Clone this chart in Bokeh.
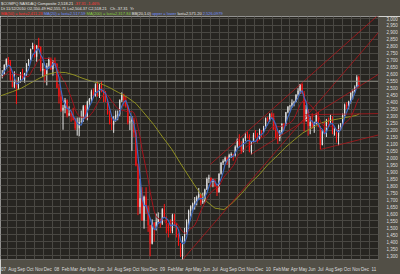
import numpy as np
import pandas as pd
from bokeh.plotting import figure
from bokeh.models import (ColumnDataSource, Div, FixedTicker, NumeralTickFormatter,
                          CustomJSTickFormatter, Span, Range1d)
from bokeh.layouts import column
from bokeh.embed import file_html
from bokeh.resources import INLINE

# ---------------- data (weekly bars, NASDAQ Composite) ----------------
first_week = "2007-06-29"
last_week = "2010-11-12"

closes = [
    # 2007
    2603, 2666, 2707, 2688, 2562, 2511, 2544, 2505, 2576, 2596, 2566, 2602, 2671, 2701,
    2780, 2805, 2725, 2804, 2795, 2627, 2637, 2596, 2661, 2709, 2635, 2691, 2674,
    # 2008
    2504, 2440, 2340, 2360, 2414, 2304, 2321, 2303, 2271, 2212, 2212, 2258, 2261,
    2370, 2290, 2402, 2422, 2476, 2445, 2528, 2444, 2523, 2475, 2454, 2406, 2316,
    2245, 2239, 2282, 2310, 2311, 2414, 2453, 2414, 2368, 2255, 2261, 2273, 2183,
    1947, 1649, 1711, 1552, 1721, 1647, 1517, 1385, 1536, 1509, 1541, 1564, 1530,
    # 2009
    1632, 1571, 1530, 1477, 1476, 1591, 1534, 1441, 1377, 1293, 1431, 1457, 1545,
    1622, 1652, 1673, 1694, 1719, 1739, 1680, 1692, 1774, 1849, 1858, 1827, 1838,
    1797, 1756, 1886, 1965, 1979, 2000, 1985, 2020, 2028, 2018, 2080, 2132, 2090,
    2048, 2139, 2156, 2154, 2045, 2112, 2167, 2146, 2138, 2194, 2190, 2212, 2285, 2269,
    # 2010
    2317, 2287, 2205, 2147, 2141, 2184, 2243, 2238, 2327, 2368, 2374, 2395,
    2402, 2454, 2481, 2530, 2461, 2265, 2347, 2229, 2257, 2219, 2243, 2309, 2223,
    2092, 2196, 2179, 2269, 2255, 2288, 2173, 2180, 2153, 2233, 2242, 2315, 2381,
    2371, 2402, 2468, 2479, 2507, 2579, 2518,
]
highs = [
    2630, 2672, 2714, 2724, 2702, 2602, 2621, 2560, 2580, 2616, 2640, 2610, 2680, 2710,
    2784, 2826, 2815, 2810, 2861, 2800, 2680, 2640, 2680, 2720, 2720, 2700, 2720,
    2680, 2530, 2480, 2380, 2430, 2420, 2370, 2340, 2360, 2290, 2290, 2290, 2340,
    2380, 2380, 2410, 2430, 2490, 2500, 2535, 2551, 2530, 2550, 2490, 2480, 2420,
    2340, 2290, 2300, 2340, 2340, 2420, 2470, 2460, 2440, 2380, 2300, 2300, 2290,
    2200, 1960, 1850, 1790, 1730, 1790, 1660, 1520, 1560, 1540, 1600, 1610, 1560,
    1640, 1670, 1580, 1530, 1560, 1600, 1600, 1530, 1460, 1390, 1440, 1500, 1560,
    1630, 1660, 1680, 1720, 1730, 1785, 1740, 1750, 1780, 1860, 1880, 1860, 1850,
    1850, 1790, 1890, 1970, 1990, 2010, 2010, 2030, 2040, 2030, 2090, 2140, 2170,
    2120, 2140, 2180, 2190, 2170, 2120, 2180, 2200, 2180, 2210, 2200, 2230, 2290, 2295,
    2320, 2326, 2320, 2240, 2190, 2200, 2250, 2250, 2330, 2370, 2380, 2420,
    2410, 2455, 2500, 2530, 2535, 2480, 2380, 2350, 2300, 2320, 2260, 2320, 2330,
    2230, 2200, 2260, 2280, 2290, 2310, 2300, 2220, 2190, 2240, 2250, 2320, 2390,
    2400, 2410, 2470, 2490, 2520, 2593, 2590,
]
lows = [
    2570, 2598, 2640, 2660, 2553, 2505, 2500, 2386, 2490, 2540, 2560, 2540, 2590, 2660,
    2700, 2780, 2720, 2690, 2780, 2620, 2580, 2540, 2520, 2640, 2630, 2590, 2660,
    2500, 2390, 2330, 2202, 2320, 2290, 2300, 2260, 2270, 2200, 2160, 2155, 2250,
    2260, 2280, 2270, 2370, 2400, 2430, 2440, 2440, 2430, 2470, 2400, 2400, 2310,
    2240, 2200, 2180, 2260, 2270, 2300, 2400, 2370, 2360, 2240, 2200, 2050, 2150,
    1940, 1590, 1600, 1550, 1493, 1600, 1470, 1295, 1380, 1400, 1480, 1530, 1500,
    1520, 1570, 1460, 1430, 1460, 1460, 1510, 1430, 1370, 1290, 1265, 1400, 1450,
    1490, 1580, 1610, 1630, 1660, 1700, 1660, 1670, 1680, 1770, 1820, 1790, 1790,
    1790, 1727, 1750, 1880, 1950, 1970, 1950, 1930, 2000, 1980, 2010, 2070, 2080,
    2030, 2040, 2120, 2140, 2040, 2025, 2110, 2140, 2110, 2130, 2150, 2180, 2210, 2260,
    2260, 2280, 2200, 2140, 2100, 2120, 2170, 2200, 2230, 2320, 2340, 2360,
    2370, 2400, 2440, 2460, 2460, 2190, 2260, 2160, 2170, 2210, 2180, 2240, 2220,
    2061, 2090, 2170, 2150, 2230, 2250, 2170, 2160, 2110, 2091, 2200, 2240, 2300,
    2350, 2350, 2390, 2420, 2470, 2500, 2504,
]
# closes of the weeks before the chart (only feed the moving averages)
warmup_closes = [2471, 2491, 2526, 2557, 2572, 2562, 2558, 2557, 2613, 2573, 2626, 2589]

ma200_dates = ["2007-06-21", "2007-08-01", "2007-09-01", "2007-10-01", "2007-11-01", "2007-12-01",
               "2008-01-01", "2008-02-01", "2008-03-01", "2008-04-01", "2008-05-01", "2008-06-01",
               "2008-07-01", "2008-08-01", "2008-09-01", "2008-10-01", "2008-11-01", "2008-12-01",
               "2009-01-01", "2009-02-01", "2009-03-01", "2009-04-01", "2009-05-01", "2009-06-01",
               "2009-07-01", "2009-08-01", "2009-09-01", "2009-10-01", "2009-11-01", "2009-12-01",
               "2010-01-01", "2010-02-01", "2010-03-01", "2010-04-01", "2010-05-01", "2010-06-01",
               "2010-07-01", "2010-08-01", "2010-09-01", "2010-10-01", "2010-11-01", "2010-11-12"]
ma200_values = [2445, 2475, 2500, 2535, 2570, 2600,
                2615, 2612, 2595, 2570, 2550, 2533,
                2505, 2470, 2435, 2390, 2315, 2240,
                2150, 2065, 1970, 1870, 1775, 1690,
                1640, 1630, 1680, 1745, 1820, 1880,
                1955, 2015, 2075, 2130, 2180, 2215,
                2250, 2268, 2280, 2292, 2305, 2317]

trend_start_dates = ["2009-06-15", "2009-03-09", "2009-11-02", "2010-05-07", "2010-07-01"]
trend_start_values = [1954, 1265, 2025, 2310, 2061]
trend_end_dates = ["2011-01-17", "2011-01-17", "2011-01-17", "2011-01-17", "2011-01-17"]
trend_end_values = [3026, 2900, 2600, 2318, 2165]

y_ticks = list(range(1300, 3001, 50))
month_names = ["Jan", "Feb", "Mar", "Apr", "May", "Jun", "Jul", "Aug", "Sep", "Oct", "Nov", "Dec"]

# ---------------- derived ----------------
fridays = pd.date_range(first_week, last_week, freq="W-FRI")
mid = fridays - pd.Timedelta(days=2)
c = np.array(closes, float)
o = np.concatenate([[warmup_closes[-1]], c[:-1]])
h = np.maximum(np.array(highs, float), np.maximum(o, c))
l = np.minimum(np.array(lows, float), np.minimum(o, c))
up = c >= o
col = np.where(up, "#e4e4e4", "#ff1414")
src = ColumnDataSource(dict(x=mid, o=o, c=c, h=h, l=l, top=np.maximum(o, c),
                            bot=np.minimum(o, c), col=col))

allc = pd.Series(warmup_closes + closes, dtype=float)
ma20 = allc.rolling(4, min_periods=1).mean().values[len(warmup_closes):]
ma50 = allc.rolling(10, min_periods=1).mean().values[len(warmup_closes):]

BG_AXIS = "#524f46"
BG_PLOT = "#272521"
GRID = "#4a4843"

p = figure(width=400, height=258, x_axis_type="datetime", y_axis_location="right",
           x_range=Range1d(pd.Timestamp("2007-06-21"), pd.Timestamp("2011-01-17")),
           y_range=Range1d(1272, 3014),
           output_backend="svg", toolbar_location=None,
           min_border_left=0, min_border_right=17, min_border_top=0, min_border_bottom=8)
p.background_fill_color = BG_PLOT
p.border_fill_color = BG_AXIS
p.outline_line_color = None

month_starts = pd.date_range("2007-07-01", "2011-01-01", freq="MS")
mid_months = month_starts + pd.Timedelta(days=15)
to_ms = lambda idx: [float(t.value // 10**6) for t in idx]

p.xaxis.ticker = FixedTicker(ticks=to_ms(month_starts))
p.xaxis.formatter = CustomJSTickFormatter(args=dict(names=month_names), code="""
const d = new Date(tick);
const m = d.getUTCMonth();
if (index == 0 || m == 0) { return String(d.getUTCFullYear()).slice(2); }
return names[m];
""")
p.xgrid.ticker = FixedTicker(ticks=to_ms(mid_months))
p.yaxis.ticker = FixedTicker(ticks=y_ticks)
p.yaxis.formatter = NumeralTickFormatter(format="0,0")
for ax in (p.xaxis[0], p.yaxis[0]):
    ax.axis_line_color = None
    ax.major_tick_line_color = None
    ax.minor_tick_line_color = None
    ax.major_label_text_font = "Liberation Sans"
    ax.major_label_text_font_size = "4.5px"
    ax.major_label_text_color = "#dedede"
    ax.major_label_standoff = 2
p.xaxis.major_label_standoff = 1
p.grid.grid_line_color = GRID
p.grid.grid_line_width = 1

p.add_layout(Span(location=2550, dimension="width", line_color="#8a8982", line_width=1))

# candles
p.segment(x0="x", y0="l", x1="x", y1="h", color="col", line_width=1, source=src)
p.vbar(x="x", width=4 * 24 * 3600 * 1000, top="top", bottom="bot", fill_color="col",
       line_color=None, source=src)

# moving averages
p.line(pd.to_datetime(ma200_dates), ma200_values, line_color="#8f8f22", line_width=1)
p.line(mid, ma50, line_color="#a3121c", line_width=1)
p.line(mid, ma20, line_color="#3f68bf", line_width=1.2)

# trend lines
p.segment(x0=pd.to_datetime(trend_start_dates), y0=trend_start_values,
          x1=pd.to_datetime(trend_end_dates), y1=trend_end_values,
          line_color="#b0161c", line_width=0.8)

header = """
<div style="background:#4f4c43;width:400px;height:16px;box-sizing:border-box;padding:1px 0 0 1px;
font-family:'Liberation Sans',Arial,sans-serif;font-size:4px;line-height:5px;white-space:nowrap;
overflow:hidden;color:#e6e6e6;">
<div>$COMPQ NASDAQ Composite 2,518.21 <span style="color:#ff3a3a">-37.31 -1.46%</span></div>
<div>Dt 11/12/2010 O2,550.49 Hi2,555.71 Lo2,504.37 C2,518.21 &nbsp; Ch -37.31 &nbsp;Yr</div>
<div><span style="color:#ff2a2a">MA(50) = last=2,411.23</span> <span style="color:#6d8dff">MA(20) = last=2,517.59</span>
<span style="color:#86d040">MA(200) = last=2,317.84</span> <span>BB(20,1.0)</span>
<span style="color:#6d8dff">upper = lower</span> <span>last=2,571.20</span> <span style="color:#6d8dff">2,526.0979</span></div>
</div>
"""
div = Div(text=header, width=400, height=16, margin=(0, 0, 0, 0))
layout = column(div, p, spacing=0, margin=(0, 0, 0, 0))

open("out.html", "w").write(file_html(layout, INLINE))
